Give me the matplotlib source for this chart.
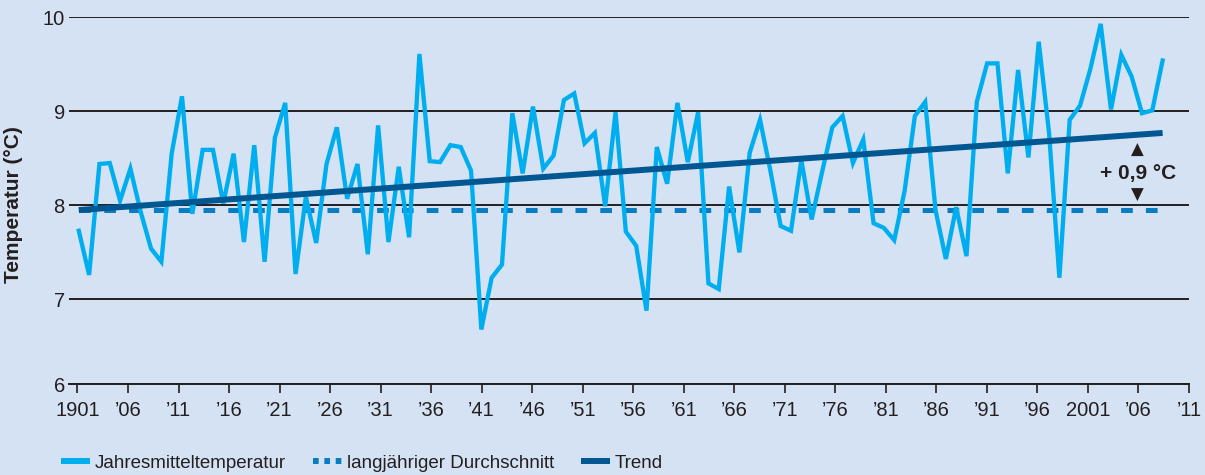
import matplotlib
matplotlib.use("Agg")
import matplotlib.pyplot as plt
from matplotlib.lines import Line2D
from matplotlib import font_manager
from matplotlib.font_manager import FontProperties

# Jahresmitteltemperatur (1901 - 2006)
years = list(range(1901, 2007))
temps = [
    7.73, 7.26, 8.44, 8.45, 8.05, 8.39, 7.93, 7.54, 7.40, 8.55,  # 1901-1910
    9.16, 7.91, 8.59, 8.59, 8.02, 8.55, 7.61, 8.64, 7.40, 8.72,  # 1911-1920
    9.09, 7.27, 8.09, 7.60, 8.44, 8.83, 8.07, 8.44, 7.48, 8.85,  # 1921-1930
    7.61, 8.41, 7.66, 9.61, 8.47, 8.46, 8.64, 8.62, 8.37, 6.68,  # 1931-1940
    7.23, 7.37, 8.98, 8.34, 9.05, 8.39, 8.53, 9.12, 9.19, 8.66,  # 1941-1950
    8.77, 7.99, 8.99, 7.72, 7.57, 6.88, 8.62, 8.23, 9.09, 8.46,  # 1951-1960
    8.99, 7.17, 7.11, 8.20, 7.50, 8.56, 8.91, 8.37, 7.78, 7.73,  # 1961-1970
    8.48, 7.85, 8.35, 8.83, 8.95, 8.45, 8.70, 7.81, 7.76, 7.63,  # 1971-1980
    8.15, 8.95, 9.10, 7.95, 7.43, 7.98, 7.46, 9.10, 9.51, 9.51,  # 1981-1990
    8.34, 9.44, 8.51, 9.74, 8.77, 7.23, 8.91, 9.06, 9.45, 9.93,  # 1991-2000
    9.02, 9.60, 9.37, 8.98, 9.01, 9.54,                          # 2001-2006
]

# langjähriger Durchschnitt and Trend (end points)
avg_years = [1901, 2006]
avg_values = [7.95, 7.95]
trend_years = [1901, 2006]
trend_values = [7.95, 8.77]

tick_years = list(range(1901, 2012, 5))
tick_labels = ["1901", "\u201906", "\u201911", "\u201916", "\u201921", "\u201926",
               "\u201931", "\u201936", "\u201941", "\u201946", "\u201951", "\u201956",
               "\u201961", "\u201966", "\u201971", "\u201976", "\u201981", "\u201986",
               "\u201991", "\u201996", "2001", "\u201906", "\u201911"]
y_ticks = [6.1, 7, 8, 9, 10]
y_labels = ["6", "7", "8", "9", "10"]

BG = "#d5e2f3"
INK = "#231f20"
CYAN = "#00aeef"
MID = "#0a7cc2"
DARK = "#005792"

# a narrow face suits the original lettering best; fall back to Liberation Sans
narrow_files = [f for f in font_manager.findSystemFonts()
                if "LiberationSansNarrow-Regular" in f]
if narrow_files:
    tick_font = FontProperties(fname=narrow_files[0], size=17)
    legend_font = FontProperties(fname=narrow_files[0], size=16)
else:
    tick_font = FontProperties(family="Liberation Sans", size=14.5)
    legend_font = FontProperties(family="Liberation Sans", size=13.5)

# the year ticks in the original are drawn slightly tighter than the data points
step_ratio = 1.0215
offset = 0.13


def to_tick(x):
    return 1901 + offset + (x - 1901) * step_ratio


def to_data(t):
    return 1901 + (t - 1901 - offset) / step_ratio


fig = plt.figure(figsize=(12.05, 4.75), dpi=100, facecolor=BG)
ax = fig.add_axes([69 / 1205, 1 - 384 / 475, 1120 / 1205, (384 - 17.3) / 475])
ax.set_facecolor(BG)

ax.plot(avg_years, avg_values, color=MID, lw=3.6, dashes=(2.34, 2.62),
        solid_capstyle="butt", dash_capstyle="butt", zorder=2)
ax.plot(years, temps, color=CYAN, lw=3.1, solid_joinstyle="miter", zorder=3)
ax.plot(trend_years, trend_values, color=DARK, lw=4.3, solid_capstyle="butt", zorder=4)

ax.set_xlim(to_data(1901) - 0.82, to_data(2011))
ax.set_ylim(6.1, 10.0)

for s in ["top", "right", "left", "bottom"]:
    ax.spines[s].set_visible(False)
ax.tick_params(axis="x", bottom=False, labelbottom=False)
ax.set_yticks(y_ticks, labels=y_labels)
ax.tick_params(axis="y", length=0, pad=3, labelcolor=INK)
for t in ax.get_yticklabels():
    t.set_fontproperties(tick_font)
ax.yaxis.grid(True, color=INK, lw=1.4)
ax.set_axisbelow(True)

secax = ax.secondary_xaxis("bottom", functions=(to_tick, to_data))
secax.set_xticks(tick_years, labels=tick_labels)
secax.tick_params(direction="out", length=6.5, width=1.2, color=INK, pad=6,
                  labelcolor=INK)
for t in secax.get_xticklabels():
    t.set_fontproperties(tick_font)
secax.spines["bottom"].set_color(INK)
secax.spines["bottom"].set_linewidth(1.4)

ax.set_ylabel("Temperatur (\u00b0C)", fontsize=15, fontweight="bold",
              family="Liberation Sans", color=INK)
ax.yaxis.set_label_coords(-0.041, 0.488)

# + 0,9 °C marker between average and trend
ax.text(2003.6, 8.34, "+ 0,9 \u00b0C", ha="center", va="center", fontsize=15,
        fontweight="bold", family="Liberation Sans", color=INK)
ax.text(2003.6, 8.585, "\u25b2", ha="center", va="center", fontsize=12,
        family="DejaVu Sans", color=INK)
ax.text(2003.6, 8.106, "\u25bc", ha="center", va="center", fontsize=12,
        family="DejaVu Sans", color=INK)

handles = [
    Line2D([], [], color=CYAN, lw=4.3, solid_capstyle="butt"),
    Line2D([], [], color=MID, lw=4.3, dashes=(0.95, 0.95), dash_capstyle="butt"),
    Line2D([], [], color=DARK, lw=4.3, solid_capstyle="butt"),
]
labels = ["Jahresmitteltemperatur", "langj\u00e4hriger Durchschnitt", "Trend"]
leg = fig.legend(handles, labels, loc="center left", bbox_to_anchor=(61 / 1205, 1 - 463 / 475),
                 ncol=3, frameon=False, handlelength=1.55, handletextpad=0.25,
                 columnspacing=1.45, borderpad=0, borderaxespad=0, prop=legend_font)
for t in leg.get_texts():
    t.set_color(INK)

fig.savefig("out.png", dpi=100, facecolor=BG)
